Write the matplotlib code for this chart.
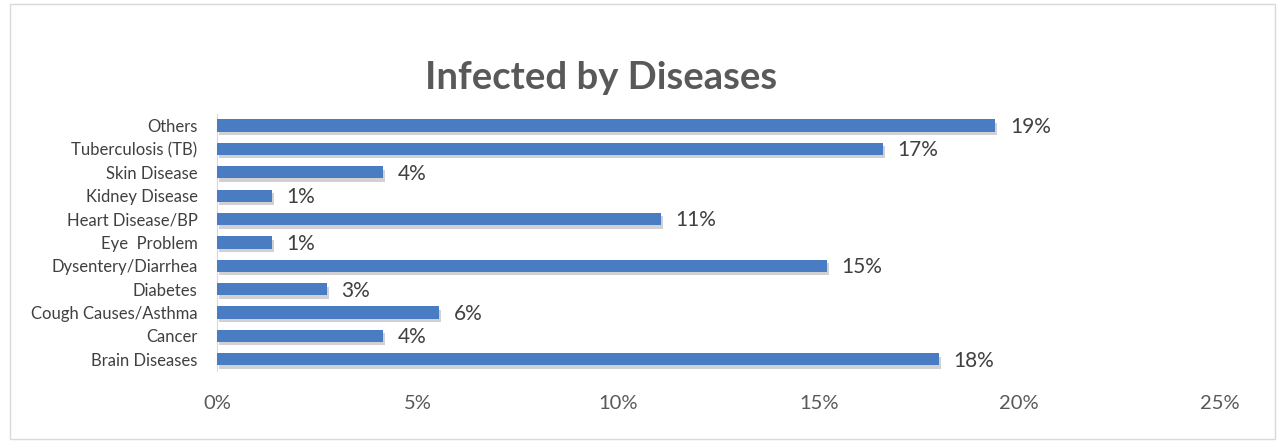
import matplotlib
matplotlib.use("Agg")
import matplotlib.pyplot as plt
import matplotlib.patheffects as pe
from matplotlib.patches import Rectangle

categories = ["Brain Diseases", "Cancer", "Cough Causes/Asthma", "Diabetes",
              "Dysentery/Diarrhea", "Eye  Problem", "Heart Disease/BP",
              "Kidney Disease", "Skin Disease", "Tuberculosis (TB)", "Others"]
values = [18.0, 4.14, 5.54, 2.74, 15.2, 1.37, 11.07, 1.37, 4.14, 16.6, 19.4]
labels = ["18%", "4%", "6%", "3%", "15%", "1%", "11%", "1%", "4%", "17%", "19%"]
xticks = [0, 5, 10, 15, 20, 25]
xtick_labels = ["0%", "5%", "10%", "15%", "20%", "25%"]
title = "Infected by Diseases"

plt.rcParams['font.family'] = ['Lato', 'DejaVu Sans']

fig = plt.figure(figsize=(12.8, 4.43), dpi=100)
fig.patches.append(Rectangle((0.008, 0.008), 0.988, 0.982, transform=fig.transFigure,
                             fill=False, edgecolor="#d9d9d9", linewidth=1))
ax = fig.add_axes([0.1695, 0.1625, 0.7835, 0.5805])

ypos = list(range(len(categories)))
bars = ax.barh(ypos, values, height=0.52, color="#4a7cc3", zorder=3)
for b in bars:
    b.set_path_effects([pe.SimplePatchShadow(offset=(1.5, -2.5), shadow_rgbFace="#000000", alpha=0.18),
                        pe.Normal()])

for y, v, lab in zip(ypos, values, labels):
    ax.annotate(lab, (v, y), xytext=(10.5, -1), textcoords="offset points",
                va="center", ha="left", fontsize=15, color="#404040")

ax.set_xlim(0, 25)
ax.set_ylim(-0.5, len(categories) - 0.5)
ax.set_yticks(ypos)
ax.set_yticklabels(categories, fontsize=12, color="#404040")
ax.set_xticks(xticks)
ax.set_xticklabels(xtick_labels, fontsize=14.5, color="#595959")
ax.tick_params(axis="both", length=0)
ax.tick_params(axis="x", pad=17)
ax.tick_params(axis="y", pad=14)
for s in ["top", "right", "bottom"]:
    ax.spines[s].set_visible(False)
ax.spines["left"].set_color("#d9d9d9")

fig.text(0.4695, 0.825, title, ha="center", va="center", fontsize=27.5,
         fontweight="bold", color="#595959")

fig.savefig("out.png", dpi=100)
